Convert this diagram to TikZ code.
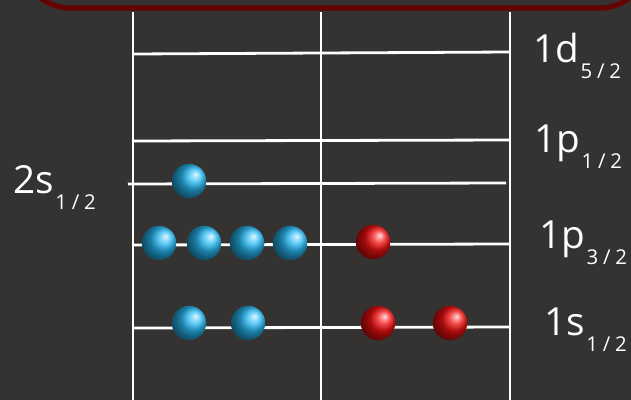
\documentclass[tikz,border=0pt]{standalone}
\usepackage{fontspec}
\setmainfont{Open Sans}
\usepackage{tikz}
\usepackage{xcolor}
\usetikzlibrary{positioning, shadings}
\definecolor{cBackdrop}{HTML}{353331}
\definecolor{cFrame}   {HTML}{650303}
\definecolor{cLevel}   {HTML}{FFFFFF}
\definecolor{cNeutron} {HTML}{28BAF4}
\definecolor{cProton}  {HTML}{F21010}
% shell label with spaced, lowered j-value
\newcommand{\shell}[3]{#1\raisebox{-4mm}{\fontsize{14.5pt}{16pt}\selectfont
  \hspace{0.4mm}#2\hspace{1.2mm}/\hspace{1.2mm}#3}}

\begin{document}
\begin{tikzpicture}[x=0.25mm, y=-0.25mm,
    level/.style={draw=cLevel, line width=0.7mm},
    nucleon/.style={circle, minimum size=8.6mm, inner sep=0pt, shading=ball, shading angle=-90},
    neutron/.style={nucleon, ball color=cNeutron},
    proton/.style={nucleon, ball color=cProton},
    shelltext/.style={anchor=base west, inner sep=0pt, text=white, font=\fontsize{27.5pt}{30pt}\selectfont}]
  \useasboundingbox (0,0) rectangle (631,400);
  \clip (0,0) rectangle (631,400);
  \fill[cBackdrop] (0,0) rectangle (631,400);
  % frame of the title box above
  \draw[cFrame, line width=1.3mm, rounded corners=12mm] (22,-80) rectangle (648,8);
  % columns
  \draw[level] (133,12) -- (133,405);
  \draw[level] (321,12) -- (321,405);
  \draw[level] (510,12) -- (510,405);
  % levels
  \draw[level] (133,54) -- (510,52);
  \draw[level] (133,141) -- (510,140);
  \draw[level] (128,184) -- (506,183);
  \draw[level] (133,245) -- (510,244);
  \draw[level] (133,328) -- (510,327);
  % labels
  \node[shelltext] (d52) at (533,62) {\shell{1d}{5}{2}};
  \node[shelltext] (p12) at (534,152) {\shell{1p}{1}{2}};
  \node[shelltext] (p32) at (539,248) {\shell{1p}{3}{2}};
  \node[shelltext] (s12) at (544,335) {\shell{1s}{1}{2}};
  \node[shelltext] (s12b) at (13,193) {\shell{2s}{1}{2}};
  % neutrons
  \node[neutron] (n1) at (189,181) {};
  \node[neutron] (n2) at (159,243) {};
  \node[neutron] (n3) at (204,243) {};
  \node[neutron] (n4) at (247,243) {};
  \node[neutron] (n5) at (290,243) {};
  \node[neutron] (n6) at (189,323) {};
  \node[neutron] (n7) at (248,323) {};
  % protons
  \node[proton] (p1) at (373,242) {};
  \node[proton] (p2) at (378,323) {};
  \node[proton] (p3) at (450,323) {};
\end{tikzpicture}
\end{document}
